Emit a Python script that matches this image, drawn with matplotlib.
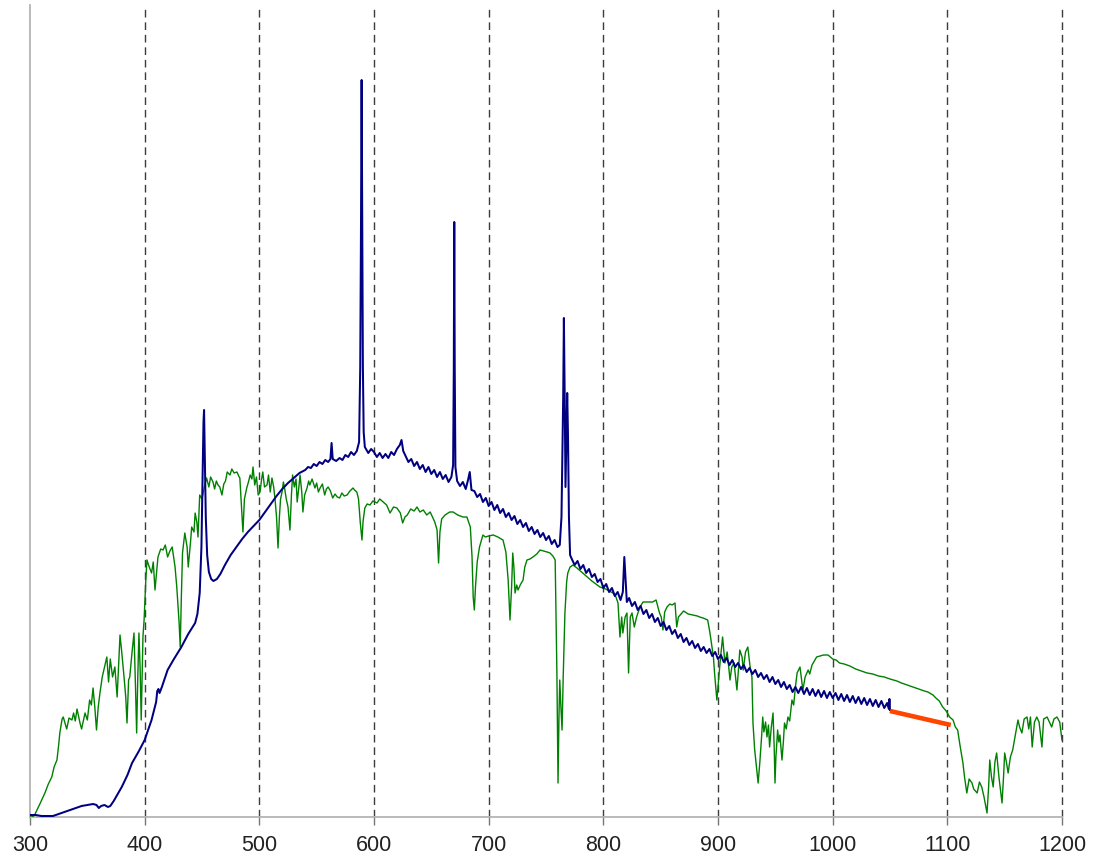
import matplotlib
matplotlib.use("Agg")
import matplotlib.pyplot as plt

# osie / podzialka
tick_nm = [300, 400, 500, 600, 700, 800, 900, 1000, 1100, 1200]

# widmo slonca (zielone)
green_nm = [
    300, 302, 304, 309, 313, 316, 319, 321, 323.5, 325,
    326, 328, 329, 330.5, 332, 334, 336.6, 338, 339.5, 341,
    343.6, 345, 348, 350, 352, 353.5, 355, 356.5, 358, 359.5,
    361, 363, 365, 367, 368.5, 370, 372, 374, 376, 378.5,
    380, 382, 383.5, 384.6, 386, 387, 389, 390.7, 392, 393,
    394, 395, 396, 397, 398.5, 399.5, 401, 402, 404, 406,
    407.5, 409, 411.6, 414, 416, 418, 420, 422, 424, 426.5,
    428, 430, 431, 432, 433, 435, 437, 438,
    440, 441, 443, 444, 445.5, 446.5, 448, 450, 452, 454,
    456, 457.5, 459.6, 461, 462.5, 464, 465.5, 467.4, 469, 470.5,
    472, 474.4, 476, 478, 480.5, 482, 483, 484.5, 485.7, 487,
    489, 490.5, 492, 493.5, 494.5, 496, 497.5, 499, 500.6, 502,
    503, 504.5, 506.7, 508, 509.5, 511, 512.5, 513.6, 515, 516.3,
    517.5, 518.5, 519.8, 521, 522, 523.5, 525, 526.7, 528, 529,
    530.5, 532, 533, 534.5, 535.5, 537, 538, 539.5, 541.6, 543,
    544, 546, 548.5, 550, 551.5, 553, 555, 557, 558.5, 560,
    562, 564, 566, 568, 570, 572, 574, 576.5, 579, 581.7,
    583, 585, 586.5, 588, 589.5, 590.5, 592, 594, 596.5, 599,
    602.6, 605, 608, 611, 614, 617, 620, 623,
    625, 627, 629, 632, 635, 637.5, 640, 643, 646, 649,
    651, 653, 655, 656.3, 657.5, 659, 662, 666, 669, 673,
    677.6, 681, 684, 685.5, 686.5, 687.5, 688.5, 690, 692, 695,
    697, 700, 704, 708, 712.5, 715, 717, 718.6, 720, 721,
    722, 723, 724.5, 725.6, 727.5, 730, 731.5, 733.4, 736, 738.6,
    742, 744.8, 748, 751, 753.5, 756, 758, 759.5, 760.5, 761.3,
    762, 763, 764, 765, 766.5, 768, 769, 771, 773.5, 777,
    782, 786, 790, 797, 802, 808.4, 811, 812.8, 814.5, 816,
    817, 819, 820.6, 822, 823.5, 825, 827, 829, 832, 834.6,
    838, 843, 846, 849, 850.5, 852, 853.5, 855.5, 858, 860,
    862.5, 864, 865.5, 867, 870, 874, 878, 882, 884, 887,
    891, 893, 894.7, 896, 897, 899, 900, 902, 904, 906,
    908, 910.5, 912, 914, 916.5, 918, 919, 921, 922, 924,
    926, 928, 929.6, 930.5, 932, 933.5, 935, 936.5, 938, 939,
    940, 941.5, 942.7, 944, 945, 946.5, 948, 949, 949.7, 950.5,
    952, 953, 954, 955.8, 957, 958, 959.5, 961, 962.5, 964.5,
    966, 967.5, 969, 971.5, 974, 976, 978.6, 980, 982, 986,
    989, 992, 996, 998,
    1000, 1003, 1006, 1010, 1015, 1020, 1025, 1030, 1035, 1040,
    1045, 1050, 1053, 1056, 1060, 1065, 1070, 1075, 1080, 1083,
    1087.5, 1090, 1093, 1096, 1099, 1102, 1105, 1107, 1109, 1111,
    1113.6, 1115, 1117, 1119, 1121.5, 1123, 1126, 1128, 1130, 1132,
    1134.6, 1136, 1137, 1138.5, 1140, 1141.5, 1143, 1145, 1147.7, 1149,
    1150, 1151.5, 1153, 1155, 1157, 1159, 1161.6, 1163, 1165, 1167,
    1169.5, 1171, 1172.5, 1174, 1176, 1178, 1180, 1182.5, 1184, 1187,
    1189, 1191, 1193, 1195.6, 1198, 1200,
]
green_val = [
    0, 0, 2, 14, 24, 33, 40, 50, 57, 72,
    84, 98, 100, 94, 88, 99, 97, 104, 96, 108,
    94, 88, 104, 97, 117, 112, 129, 110, 87, 110,
    124, 140, 150, 160, 135, 158, 140, 150, 120, 182,
    165, 140, 120, 94, 137, 140, 165, 184, 130, 84,
    140, 184, 150, 97, 180, 197, 237, 257, 250, 244,
    255, 227, 260, 268, 267, 272, 260, 266, 270, 250,
    230, 195, 170, 220, 264, 284, 270, 250,
    275, 290, 285, 304, 295, 280, 322, 318, 330, 339,
    330, 340, 335, 328, 336, 332, 330, 322, 333, 336,
    345, 342, 348, 344, 345, 341, 339, 310, 285, 318,
    329, 335, 342, 338, 350, 332, 340, 322, 325, 338,
    345, 330, 332, 342, 325, 339, 330, 319, 300, 269,
    300, 318, 325, 335, 329, 318, 310, 287, 322, 342,
    330, 338, 315, 330, 342, 325, 305, 322, 329, 336,
    332, 338, 329, 334, 325, 329, 333, 322, 328, 330,
    326, 319, 323, 320, 319, 324, 321, 322, 326, 329,
    327, 325, 318, 295, 277, 296, 309, 313, 312, 316,
    314, 318, 315, 312, 304, 310, 309, 304,
    294, 300, 302, 308, 306, 310, 305, 307, 302, 305,
    300, 295, 287, 254, 285, 298, 302, 305, 305, 302,
    300, 300, 290, 260, 220, 207, 230, 255, 270, 282,
    280, 281, 282, 280, 277, 265, 237, 197, 230, 264,
    250, 224, 232, 227, 232, 237, 250, 257, 258, 260,
    263, 267, 266, 265, 264, 261, 257, 144, 34, 100,
    137, 110, 87, 140, 204, 235, 244, 250, 252, 249,
    244, 240, 236, 230, 228, 224, 220, 214, 180, 200,
    184, 200, 204, 144, 200, 204, 190, 200, 210, 215,
    215, 215, 217, 204, 200, 187, 205, 210, 213, 212,
    214, 190, 200, 202, 206, 203, 202, 201, 200, 199,
    197, 184, 170, 160, 144, 117, 130, 157, 180, 154,
    165, 137, 150, 154, 127, 150, 167, 160, 147, 165,
    170, 150, 140, 94, 67, 50, 34, 55, 80, 100,
    85, 95, 80, 92, 70, 90, 104, 70, 34, 60,
    87, 75, 82, 57, 75, 94, 88, 100, 96, 117,
    112, 130, 144, 150, 127, 140, 147, 143, 152, 160,
    161, 162, 162, 160,
    158, 157, 154, 153, 151, 148, 146, 144, 143, 141,
    140, 138, 137, 136, 134, 132, 130, 128, 126, 125,
    122, 119, 116, 110, 106, 100, 97, 90, 87, 72,
    54, 40, 24, 38, 34, 28, 24, 35, 30, 20,
    4, 30, 57, 40, 30, 55, 64, 40, 14, 40,
    64, 55, 44, 60, 67, 80, 97, 90, 84, 98,
    100, 88, 100, 70, 95, 100, 95, 70, 98, 100,
    95, 90, 98, 100, 95, 77,
]

# widmo lampy (granatowe)
blue_nm = [
    300, 305, 310, 315, 320, 325, 330, 335, 340, 345,
    350, 355, 358, 360, 362, 365, 368, 370, 373, 376,
    380, 385, 389, 395, 400, 406, 410, 411, 412, 413,
    415, 420, 425, 432, 438, 444, 446, 448, 449.5, 450.5,
    451.3, 451.8, 452.5, 453.3, 454.5, 456, 458, 460, 463, 466,
    470, 475, 480, 485, 490, 495, 500, 505, 510, 515,
    520, 525, 530, 535, 540, 542.5, 545, 547.5, 550, 552.5,
    555, 557.5, 560, 562, 563, 564, 567, 570, 572.5, 575,
    577.5, 580, 582.5, 585, 587, 588, 588.7, 589.2, 589.7, 590.3,
    591, 592, 595, 597.5,
    600, 602.5, 605, 607.5, 610, 612.5, 615, 617.5, 620, 622.5,
    624, 625.5, 627.5, 630, 632.5, 635, 637.5, 640, 642.5, 645,
    647.5, 650, 652.5, 655, 657.5, 660, 662.5, 665, 667.5, 669,
    669.6, 670, 670.4, 671, 672.5, 675, 677.5, 680, 682, 683.5,
    685, 687.5, 690, 692.5, 695, 697.5, 700, 702.5, 705, 707.5,
    710, 712.5, 715, 717.5, 720, 722.5, 725, 727.5, 730, 732.5,
    735, 737.5, 740, 742.5, 745, 747.5, 750, 752.5, 755, 757.5,
    760, 762, 763.5, 765, 765.6, 766.3, 767, 767.8, 768.5, 769.2,
    770, 771, 772.5, 775, 777.5, 780, 782.5, 785, 787.5, 790,
    792.5, 795, 797.5, 800, 802.5, 805, 807.5, 810, 812.5, 815,
    817, 818.3, 819.3, 820.5, 822.5, 825, 827.5, 830, 832.5, 835,
    837.5, 840, 842.5, 845, 847.5, 850, 852.5, 855, 857.5, 860,
    862.5, 865, 867.5, 870, 872.5, 875, 877.5, 880, 882.5, 885,
    887.5, 890, 892.5, 895, 897.5, 900, 902.5, 905, 907.5, 910,
    912.5, 915, 917.5, 920, 922.5, 925, 927.5, 930, 932.5, 935,
    937.5, 940, 942.5, 945, 947.5, 950, 952.5, 955, 957.5, 960,
    962.5, 965, 967.5,
    970, 972.5, 975, 977.5, 980, 982.5, 985, 987.5, 990, 992.5,
    995, 997.5, 1000, 1002.5, 1005, 1007.5, 1010, 1012.5, 1015, 1017.5,
    1020, 1022.5, 1025, 1027.5, 1030, 1032.5, 1035, 1037.5, 1040, 1042.5,
    1045, 1047.5, 1049, 1049.5, 1050,
]
blue_val = [
    2, 2, 1, 1, 1, 3, 5, 7, 9, 11,
    12, 13, 12, 9, 11, 12, 10, 11, 16, 22,
    30, 42, 54, 66, 77, 97, 115, 126, 128, 124,
    130, 147, 157, 170, 183, 194, 203, 224, 270, 340,
    395, 407, 360, 300, 262, 245, 238, 236, 238, 243,
    252, 262, 270, 278, 285, 291, 297, 305, 313, 321,
    328, 334, 339, 344, 347, 350, 349, 353, 351, 355,
    353, 357, 355, 358, 374, 358, 356, 359, 357, 362,
    360, 365, 362, 366, 375, 450, 600, 737, 600, 450,
    385, 370, 364, 368,
    365, 360, 364, 359, 363, 359, 365, 362, 368, 372,
    377, 366, 361, 355, 358, 351, 355, 348, 352, 345,
    350, 343, 347, 340, 345, 338, 342, 335, 340, 352,
    450, 595, 450, 350, 336, 331, 335, 328, 337, 345,
    327, 326, 320, 323, 315, 319, 311, 315, 307, 312,
    304, 308, 300, 304, 297, 301, 293, 297, 290, 294,
    286, 290, 283, 287, 280, 284, 277, 281, 273, 277,
    270, 272, 300, 420, 499, 420, 330, 380, 424, 380,
    300, 262, 258, 252, 256, 248, 252, 244, 248, 240,
    243, 235, 238, 229, 233, 225, 229, 221, 225, 217,
    225, 260, 240, 215, 219, 211, 215, 207, 211, 203,
    207, 199, 203, 195, 199, 191, 195, 187, 191, 183,
    187, 179, 183, 175, 179, 172, 176, 169, 173, 166,
    170, 164, 168, 161, 165, 158, 162, 155, 159, 152,
    157, 150, 154, 148, 152, 145, 149, 143, 147, 140,
    144, 138, 142, 135, 140, 133, 137, 130, 135, 128,
    132, 125, 130,
    124, 130, 123, 129, 122, 128, 121, 127, 120, 126,
    119, 125, 119, 124, 117, 123, 116, 122, 115, 121,
    114, 120, 113, 119, 112, 118, 111, 117, 110, 116,
    109, 114, 108, 118, 107,
]

# odcinek laczacy (czerwony)
red_nm = [1050, 1103]
red_val = [106, 92]

assert len(green_nm) == len(green_val), (len(green_nm), len(green_val))
assert len(blue_nm) == len(blue_val), (len(blue_nm), len(blue_val))

plt.rcParams['font.family'] = ['Liberation Sans', 'DejaVu Sans']

fig = plt.figure(figsize=(10.95, 8.61), dpi=100)
ax = fig.add_axes([30 / 1095, 44 / 861, 1032 / 1095, 812 / 861])

for t in tick_nm[1:]:
    ax.axvline(t, color='#3c3c3c', lw=1.0, linestyle=(0, (5.5, 3.5)),
               zorder=1, clip_on=False)

ax.plot(green_nm, green_val, color='#008000', lw=1.0, zorder=3)
ax.plot(blue_nm, blue_val, color='#000080', lw=1.45, zorder=4)
ax.plot(red_nm, red_val, color='#ff4500', lw=3.3, solid_capstyle='butt', zorder=5)

ax.set_xlim(300, 1200)
ax.set_ylim(0, 812)
ax.set_xticks(tick_nm)
ax.set_yticks([])

for side in ['top', 'right']:
    ax.spines[side].set_visible(False)
for side in ['left', 'bottom']:
    ax.spines[side].set_color('#b4b4b4')
    ax.spines[side].set_linewidth(1.3)

ax.tick_params(axis='x', length=6, width=1.0, color='#777777', pad=7,
               labelsize=15.5, labelcolor='#222222')

fig.savefig('out.png', dpi=100)
